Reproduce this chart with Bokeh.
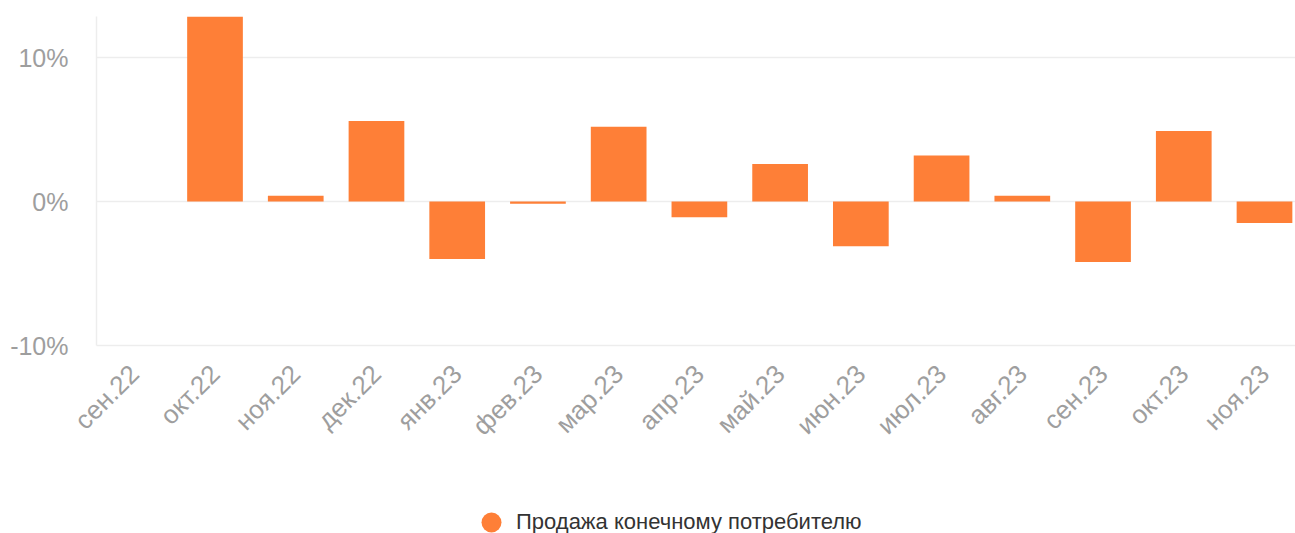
import math
from bokeh.plotting import figure
from bokeh.layouts import column
from bokeh.models import (Range1d, FixedTicker, CustomJSTickFormatter,
                          Legend, LegendItem, ColumnDataSource)
from bokeh.embed import file_html
from bokeh.resources import INLINE

months = ["сен.22", "окт.22", "ноя.22", "дек.22", "янв.23", "фев.23", "мар.23",
          "апр.23", "май.23", "июн.23", "июл.23", "авг.23", "сен.23", "окт.23", "ноя.23"]
values = [float("nan"), 12.9, 0.4, 5.6, -4.0, -0.15, 5.2, -1.1, 2.6, -3.1, 3.2, 0.4, -4.2, 4.9, -1.5]
y_ticks = [-10, 0, 10]
series_name = "Продажа конечному потребителю"

BAR = "#FE7F37"
GRID = "#EDEDED"
LABEL = "#9E9E9E"
FONT = "Liberation Sans"

idx = list(range(len(months)))
src = ColumnDataSource(dict(i=idx, m=months, v=values))

# the reference chart runs a little past the right edge of the window
p = figure(x_range=Range1d(-0.468, 14.384), y_range=Range1d(-10, 12.85),
           width=1295, height=460, output_backend="svg", toolbar_location=None,
           min_border_left=96, min_border_right=0, min_border_top=16, min_border_bottom=115)
p.outline_line_color = None

p.vbar(x="i", top="v", bottom=0, width=0.69, source=src, color=BAR, line_color=None)

# axes
p.yaxis.ticker = FixedTicker(ticks=y_ticks)
p.yaxis.formatter = CustomJSTickFormatter(code="return tick + '%';")
p.yaxis.axis_line_color = GRID
p.yaxis.axis_line_width = 1.5
p.yaxis.major_tick_line_color = None
p.yaxis.minor_tick_line_color = None
p.yaxis.major_label_standoff = 22
p.yaxis.major_label_text_font = FONT
p.yaxis.major_label_text_font_size = "25px"
p.yaxis.major_label_text_color = LABEL

p.xaxis.ticker = FixedTicker(ticks=idx)
p.xaxis.major_label_overrides = {i: m for i, m in zip(idx, months)}
p.xaxis.axis_line_color = GRID
p.xaxis.axis_line_width = 1.5
p.xaxis.major_tick_line_color = None
p.xaxis.minor_tick_line_color = None
p.xaxis.major_label_orientation = math.pi / 4
p.xaxis.major_label_standoff = 18
p.xaxis.major_label_text_font = FONT
p.xaxis.major_label_text_font_size = "26px"
p.xaxis.major_label_text_color = LABEL

p.xgrid.grid_line_color = None
p.ygrid.grid_line_color = GRID
p.ygrid.grid_line_width = 1.5
p.ygrid.ticker = FixedTicker(ticks=y_ticks)

# legend strip below the chart
lg = figure(width=1295, height=73, output_backend="svg", toolbar_location=None,
            x_range=Range1d(0, 1), y_range=Range1d(0, 1),
            min_border_left=96, min_border_right=0, min_border_top=0, min_border_bottom=0)
lg.axis.visible = False
lg.grid.visible = False
lg.outline_line_color = None
dummy = lg.scatter(x=[-100], y=[-100], marker="circle", size=20, fill_color=BAR, line_color=None)
legend = Legend(items=[LegendItem(label=series_name, renderers=[dummy])],
                location=(370, -14), orientation="horizontal",
                label_text_font=FONT, label_text_font_size="22px", label_text_color="#333333",
                glyph_width=50, glyph_height=50, label_height=20, label_standoff=-6,
                padding=0, margin=0, spacing=0,
                border_line_color=None, background_fill_alpha=0)
lg.add_layout(legend, "center")

layout = column(p, lg, spacing=0)
open("out.html", "w").write(file_html(layout, INLINE))
